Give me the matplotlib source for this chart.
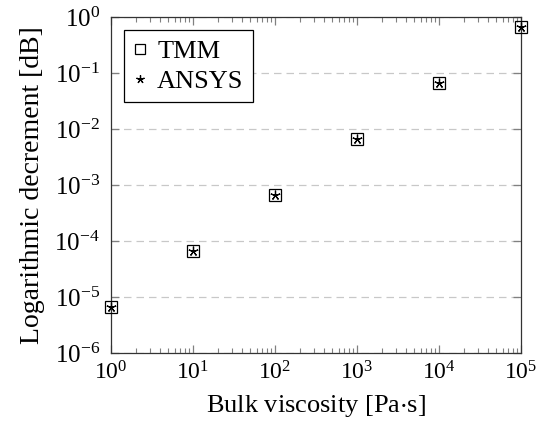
import matplotlib
matplotlib.use("Agg")
import matplotlib.pyplot as plt
from matplotlib.ticker import LogLocator, NullLocator

# bulk viscosity [Pa s] and logarithmic decrement [dB]
visc = [1e0, 1e1, 1e2, 1e3, 1e4, 1e5]
tmm = [6.5e-6, 6.6e-5, 6.6e-4, 6.6e-3, 6.6e-2, 0.65]
ansys = [6.5e-6, 6.6e-5, 6.6e-4, 6.6e-3, 6.6e-2, 0.65]

TICK = "#808080"
plt.rcParams.update({"font.family": "serif",
                     "font.serif": ["Liberation Serif", "DejaVu Serif"],
                     "mathtext.fontset": "stix",
                     "font.size": 19})

fig = plt.figure(figsize=(5.37, 4.29), dpi=100)
ax = fig.add_axes([111 / 537, 1 - 353 / 429, 410 / 537, 336 / 429])

STAR = (5, 2, 0)  # five-spoke asterisk like the pgfplots star
ax.plot(visc, tmm, "s", ms=8, mfc="none", mec="black", mew=0.9,
        linestyle="none", label="TMM", clip_on=False, zorder=3)
ax.plot(visc, ansys, marker=STAR, ms=7, color="black", mew=0.9,
        linestyle="none", label="ANSYS", clip_on=False, zorder=4)

ax.set_xscale("log")
ax.set_yscale("log")
ax.set_xlim(1, 1e5)
ax.set_ylim(1e-6, 1)
ax.xaxis.set_major_locator(LogLocator(base=10, numticks=10))
ax.xaxis.set_minor_locator(LogLocator(base=10, subs=range(2, 10), numticks=10))
ax.yaxis.set_major_locator(LogLocator(base=10, numticks=10))
ax.yaxis.set_minor_locator(NullLocator())

ax.grid(True, axis="y", which="major", color="#c8c8c8", lw=0.9,
        linestyle=(0, (6, 4)))
ax.set_axisbelow(True)
ax.tick_params(which="both", direction="in", top=True, right=True,
               color=TICK)
ax.tick_params(axis="x", pad=6, labelsize=17)
ax.tick_params(axis="y", pad=8, labelsize=18)
ax.tick_params(which="major", length=6, width=0.9)
ax.tick_params(which="minor", length=3.5, width=0.8)
for s in ax.spines.values():
    s.set_color("#333333")
    s.set_linewidth(0.9)

ax.set_xlabel("Bulk viscosity [Pa$\\cdot$s]", labelpad=6)
ax.set_ylabel("Logarithmic decrement [dB]", labelpad=7, fontsize=20)

leg = ax.legend(loc="upper left", fancybox=False, edgecolor="black",
                framealpha=1, handlelength=0.5, handletextpad=0.4,
                borderpad=0.35, labelspacing=0.25, borderaxespad=0.5,
                fontsize=19, markerscale=0.85)
leg.get_frame().set_linewidth(0.9)

fig.savefig("out.png", dpi=100)
